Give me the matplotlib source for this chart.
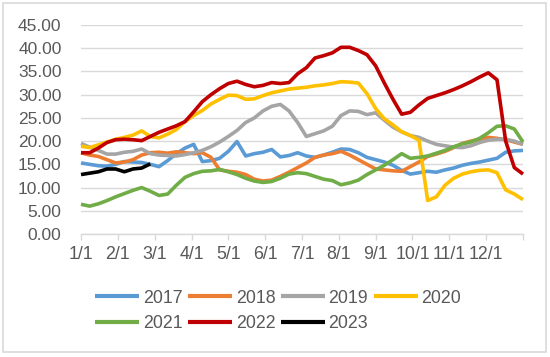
import numpy as np
import matplotlib.pyplot as plt
from matplotlib.patches import Rectangle

plt.rcParams['font.family'] = ['Liberation Sans', 'DejaVu Sans']

# weekly values, 52 points across the year
y2017 = [15.3, 15.0, 14.7, 14.6, 15.0, 15.6, 15.5, 15.4, 15.0, 14.5,
         15.8, 17.3, 18.5, 19.3, 15.6, 15.8, 16.3, 17.8, 19.9, 16.8,
         17.3, 17.6, 18.2, 16.6, 16.9, 17.5, 16.8, 16.5, 17.0, 17.6,
         18.3, 18.2, 17.5, 16.5, 16.0, 15.5, 14.8, 13.7, 12.9, 13.2,
         13.5, 13.3, 13.8, 14.2, 14.8, 15.2, 15.5, 15.9, 16.3, 17.6,
         17.9, 18.0]
y2018 = [17.5, 17.0, 16.7, 16.0, 15.3, 15.5, 16.0, 17.0, 17.5, 17.6,
         17.4, 17.7, 17.5, 17.3, 17.5, 16.5, 13.8, 13.5, 13.3, 12.8,
         11.8, 11.4, 11.6, 12.4, 13.3, 14.3, 15.3, 16.5, 17.0, 17.3,
         17.8, 17.0, 16.0, 15.0, 14.0, 13.8, 13.6, 13.5, 14.5, 15.5,
         16.7, 17.2, 17.8, 18.6, 19.5, 20.0, 20.4, 20.8, 20.6, 20.3,
         19.8, 19.3]
y2019 = [19.5, 18.7, 18.0, 17.2, 17.2, 17.6, 17.8, 18.3, 17.3, 17.0,
         16.9, 16.8, 17.1, 17.5, 18.0, 18.8, 19.8, 21.0, 22.3, 24.0,
         25.0, 26.5, 27.5, 27.9, 26.5, 24.0, 21.0, 21.6, 22.2, 23.2,
         25.5, 26.5, 26.4, 25.7, 26.1, 24.5, 23.0, 22.0, 21.2, 20.8,
         20.0, 19.3, 19.0, 18.7, 18.6, 19.0, 19.7, 20.2, 20.4, 20.4,
         20.0, 19.3]
y2020 = [18.9, 18.6, 19.2, 19.8, 20.4, 20.8, 21.3, 22.2, 21.0, 20.7,
         21.5, 22.5, 24.2, 25.5, 26.6, 28.0, 29.0, 29.9, 29.8, 29.0,
         29.1, 29.8, 30.4, 30.8, 31.2, 31.4, 31.6, 31.9, 32.1, 32.4,
         32.8, 32.7, 32.5, 30.2, 27.0, 24.8, 23.5, 22.0, 21.2, 20.2,
         7.2, 8.0, 10.5, 12.0, 12.9, 13.4, 13.7, 13.8, 13.2, 9.5,
         8.6, 7.4]
y2021 = [6.4, 6.0, 6.5, 7.2, 8.0, 8.7, 9.4, 10.0, 9.2, 8.3,
         8.6, 10.5, 12.2, 13.0, 13.5, 13.6, 13.9, 13.4, 12.8, 12.0,
         11.4, 11.1, 11.3, 12.0, 12.9, 13.2, 13.0, 12.4, 11.8, 11.5,
         10.6, 11.0, 11.6, 12.8, 13.8, 14.8, 16.0, 17.3, 16.3, 16.5,
         16.8, 17.4, 18.0, 18.8, 19.4, 19.8, 20.6, 21.8, 23.2, 23.3,
         22.6, 19.8]
y2022 = [17.5, 17.5, 18.5, 19.7, 20.3, 20.4, 20.3, 20.1, 21.0, 21.9,
         22.6, 23.3, 24.2, 26.3, 28.5, 30.0, 31.3, 32.4, 32.9, 32.2,
         31.7, 32.0, 32.6, 32.4, 32.6, 34.5, 35.8, 37.9, 38.4, 39.0,
         40.2, 40.2, 39.5, 38.6, 36.2, 32.5, 29.0, 25.8, 26.2, 27.8,
         29.2, 29.8, 30.4, 31.1, 31.9, 32.8, 33.8, 34.7, 33.2, 20.0,
         14.3, 12.9]
y2023 = [12.8, 13.1, 13.4, 14.0, 14.0, 13.4, 14.0, 14.2, 15.1]

years = ["2017", "2018", "2019", "2020", "2021", "2022", "2023"]
series = [y2017, y2018, y2019, y2020, y2021, y2022, y2023]
colors = ["#5B9BD5", "#ED7D31", "#A5A5A5", "#FFC000", "#70AD47", "#C00000", "#000000"]
month_labels = ["1/1", "2/1", "3/1", "4/1", "5/1", "6/1", "7/1", "8/1",
                "9/1", "10/1", "11/1", "12/1", ""]

txt = "#595959"
grid = "#D9D9D9"

fig = plt.figure(figsize=(5.5, 3.57), dpi=100)
ax = fig.add_axes([81/550, 1 - 234/357, (523 - 81)/550, (234 - 25)/357])

weeks = np.linspace(0, 12, 52)
lines = {}
for yr, vals, c in zip(years, series, colors):
    ln, = ax.plot(weeks[:len(vals)], vals, color=c, lw=2.6,
                  solid_joinstyle="round", solid_capstyle="butt",
                  clip_on=False, label=yr)
    lines[yr] = ln

ax.set_xlim(0, 12)
ax.set_ylim(0, 45)
ax.set_yticks(np.arange(0, 46, 5))
ax.yaxis.set_major_formatter(plt.FormatStrFormatter("%.2f"))
ax.set_xticks(np.arange(13))
ax.set_xticklabels(month_labels)

ax.yaxis.grid(True, color=grid, lw=1)
ax.set_axisbelow(True)
for s in ["left", "right", "top"]:
    ax.spines[s].set_visible(False)
ax.spines["bottom"].set_color(grid)
ax.spines["bottom"].set_linewidth(1)

ax.tick_params(axis="y", length=0, pad=14, labelsize=12.5, labelcolor=txt)
ax.tick_params(axis="x", direction="out", length=4.5, color=grid, width=1,
               pad=4, labelsize=12.8, labelcolor=txt)

# legend laid out row by row: 4 in the first row, 3 in the second
order = ["2017", "2021", "2018", "2022", "2019", "2023", "2020"]
leg = fig.legend([lines[k] for k in order], order, ncol=4, loc="center",
                 bbox_to_anchor=(278/550, 1 - 311/357), frameon=False,
                 fontsize=12.8, handlelength=2.5, handletextpad=0.2,
                 columnspacing=0.3, labelspacing=0.5, borderpad=0)
for t in leg.get_texts():
    t.set_color(txt)
for h in leg.get_lines():
    h.set_linewidth(3)

fig.patches.append(Rectangle((2.5/550, 1 - 352/357), (546 - 2.5)/550, (352 - 2.5)/357,
                             transform=fig.transFigure, fill=False,
                             edgecolor=grid, lw=1.2))

fig.savefig("out.png", dpi=100)
